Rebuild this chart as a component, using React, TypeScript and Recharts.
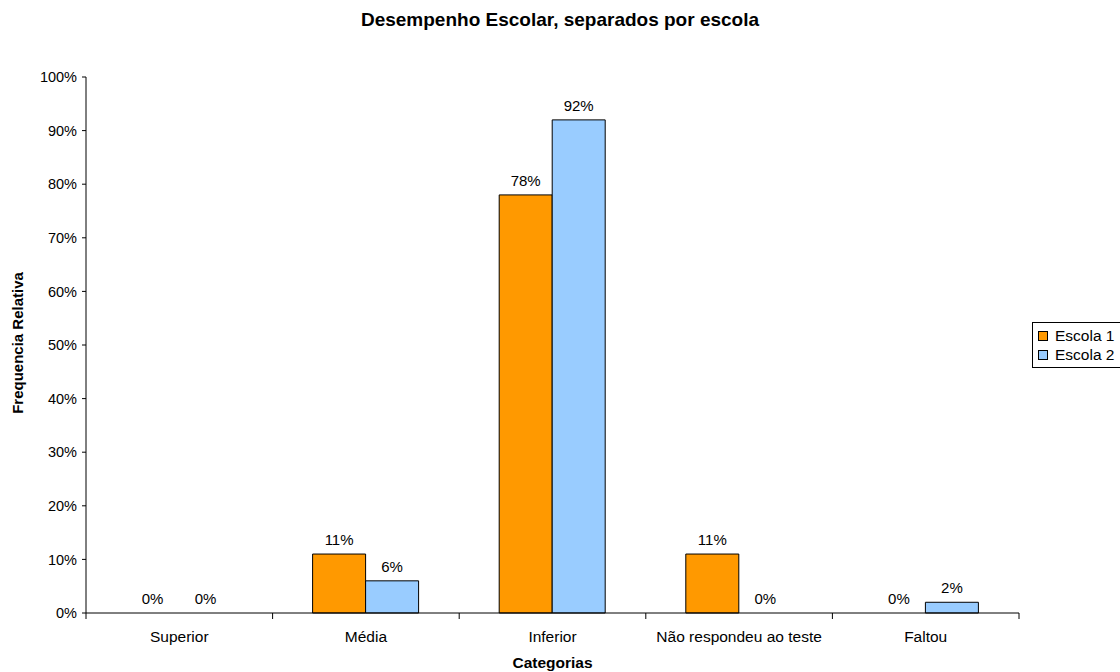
import { BarChart, Bar, XAxis, YAxis, LabelList, Cell } from 'recharts';

const categories = ['Superior', 'Média', 'Inferior', 'Não respondeu ao teste', 'Faltou'];
const escola1 = [0, 11, 78, 11, 0];
const escola2 = [0, 6, 92, 0, 2];
const yTicks = [0, 10, 20, 30, 40, 50, 60, 70, 80, 90, 100];
const seriesNames = ['Escola 1', 'Escola 2'];
const seriesColors = ['#FF9900', '#99CCFF'];

const data = categories.map((cat, i) => ({ cat, e1: escola1[i], e2: escola2[i] }));

const FONT = '"Liberation Sans", Arial, sans-serif';
const PLOT_LEFT = 86;
const PLOT_RIGHT = 1019;
const PLOT_BOTTOM = 613;
const BAND = (PLOT_RIGHT - PLOT_LEFT) / categories.length;

// category label plus tick marks on the category boundaries
const CategoryTick = (props: any) => {
  const { x, payload, index } = props;
  const half = BAND / 2;
  return (
    <g>
      <line x1={x - half} x2={x - half} y1={PLOT_BOTTOM} y2={PLOT_BOTTOM + 6} stroke="#000" />
      {index === categories.length - 1 && (
        <line x1={x + half} x2={x + half} y1={PLOT_BOTTOM} y2={PLOT_BOTTOM + 6} stroke="#000" />
      )}
      <text x={x} y={PLOT_BOTTOM + 29} textAnchor="middle" fontSize={15.5} fill="#000" fontFamily={FONT}>
        {payload.value}
      </text>
    </g>
  );
};

const pct = (v: any) => v + '%';

const App = () => {
  return (
    <div style={{ position: 'absolute', left: 0, top: 0, width: 1120, height: 672, background: '#fff', fontFamily: FONT }}>
      <div style={{ position: 'absolute', left: 0, width: 1120, top: 8, textAlign: 'center', fontWeight: 'bold', fontSize: 19, lineHeight: '24px' }}>
        Desempenho Escolar, separados por escola
      </div>
      <BarChart
        width={1120}
        height={672}
        data={data}
        margin={{ top: 77, right: 101, left: 26, bottom: 29 }}
        barGap={0}
        barSize={53}
      >
        <XAxis
          dataKey="cat"
          height={30}
          axisLine={{ stroke: '#000' }}
          tickLine={false}
          tick={<CategoryTick />}
          interval={0}
        />
        <YAxis
          width={60}
          domain={[0, 100]}
          ticks={yTicks}
          interval={0}
          tickFormatter={pct}
          axisLine={{ stroke: '#000' }}
          tickLine={{ stroke: '#000' }}
          tickSize={4}
          tickMargin={5}
          tick={{ fill: '#000', fontSize: 14.5, fontFamily: FONT }}
        />
        {/* tiny minPointSize keeps the zero bars (and their 0% labels) in the layout; their outline is hidden */}
        <Bar dataKey="e1" fill={seriesColors[0]} minPointSize={0.01} isAnimationActive={false}>
          {escola1.map((v, i) => (
            <Cell key={i} stroke={v === 0 ? 'none' : '#000'} strokeWidth={1} />
          ))}
          <LabelList dataKey="e1" position="top" offset={9} formatter={pct} fill="#000" fontSize={15} fontFamily={FONT} />
        </Bar>
        <Bar dataKey="e2" fill={seriesColors[1]} minPointSize={0.01} isAnimationActive={false}>
          {escola2.map((v, i) => (
            <Cell key={i} stroke={v === 0 ? 'none' : '#000'} strokeWidth={1} />
          ))}
          <LabelList dataKey="e2" position="top" offset={9} formatter={pct} fill="#000" fontSize={15} fontFamily={FONT} />
        </Bar>
      </BarChart>
      <div
        style={{
          position: 'absolute',
          left: 17,
          top: 343,
          fontWeight: 'bold',
          fontSize: 15,
          whiteSpace: 'nowrap',
          transform: 'translate(-50%, -50%) rotate(-90deg)',
        }}
      >
        Frequencia Relativa
      </div>
      <div style={{ position: 'absolute', left: PLOT_LEFT, width: PLOT_RIGHT - PLOT_LEFT, top: 653, textAlign: 'center', fontWeight: 'bold', fontSize: 15.5, lineHeight: '20px' }}>
        Categorias
      </div>
      <div
        style={{
          position: 'absolute',
          left: 1032,
          top: 322,
          width: 90,
          height: 46,
          border: '1px solid #000',
          fontSize: 15.5,
          padding: '3px 0 0 5px',
          boxSizing: 'border-box',
        }}
      >
        {seriesNames.map((name, i) => (
          <div key={name} style={{ display: 'flex', alignItems: 'center', height: 19 }}>
            <span style={{ width: 8, height: 8, border: '1px solid #000', background: seriesColors[i], marginRight: 7 }} />
            {name}
          </div>
        ))}
      </div>
    </div>
  );
};

export default App;
